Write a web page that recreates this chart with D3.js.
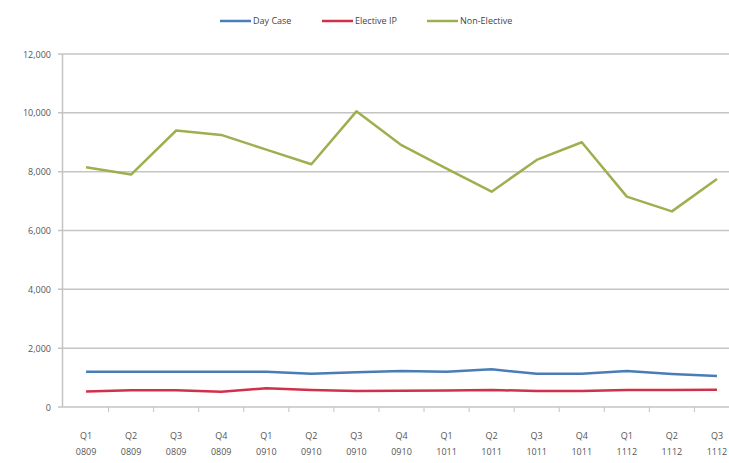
<!DOCTYPE html>
<html>
<head>
<meta charset="utf-8">
<script src="https://cdn.jsdelivr.net/npm/d3@7"></script>
<style>
body { margin: 0; background: #fff; }
svg { display: block; font-family: "Open Sans", sans-serif; }
</style>
</head>
<body>
<div id="chart"></div>
<script>
const width = 729;
const height = 463;

// data
const quarters = ["Q1", "Q2", "Q3", "Q4", "Q1", "Q2", "Q3", "Q4", "Q1", "Q2", "Q3", "Q4", "Q1", "Q2", "Q3"];
const years = ["0809", "0809", "0809", "0809", "0910", "0910", "0910", "0910", "1011", "1011", "1011", "1011", "1112", "1112", "1112"];
const dayCase = [1200, 1200, 1200, 1200, 1200, 1130, 1180, 1220, 1200, 1280, 1130, 1130, 1220, 1120, 1050];
const electiveIP = [530, 570, 570, 520, 640, 580, 540, 550, 560, 580, 540, 540, 580, 580, 590];
const nonElective = [8150, 7900, 9400, 9250, 8750, 8250, 10050, 8900, 8100, 7320, 8400, 9000, 7150, 6650, 7750];
const yTicks = [0, 2000, 4000, 6000, 8000, 10000, 12000];

const series = [
	{ name: "Day Case", values: dayCase, color: "#4a7db8" },
	{ name: "Elective IP", values: electiveIP, color: "#d1304a" },
	{ name: "Non-Elective", values: nonElective, color: "#9cb050" }
];

const cats = quarters.map((q, i) => i);

let svg = d3.select("#chart").append("svg").attr("width", width).attr("height", height);

const x = d3.scaleBand().domain(cats).range([63.5, 739.5]);
const y = d3.scaleLinear().domain([0, 12000]).range([407, 54]);

// gridlines
svg.append("g").selectAll("line").data(yTicks).join("line")
	.attr("x1", 58).attr("x2", width)
	.attr("y1", d => y(d)).attr("y2", d => y(d))
	.attr("stroke", "#c4c4c4").attr("stroke-width", 1.5);

// y axis labels
svg.append("g").selectAll("text").data(yTicks).join("text")
	.attr("x", 51).attr("y", d => y(d) + 3.5)
	.attr("text-anchor", "end").attr("font-size", 9).attr("fill", "#555")
	.text(d => d3.format(",")(d));

// axis line
svg.append("line").attr("x1", 62.5).attr("x2", 62.5).attr("y1", y(12000)).attr("y2", y(0))
	.attr("stroke", "#c4c4c4").attr("stroke-width", 1.5);

// x ticks at category boundaries
svg.append("g").selectAll("line").data(cats.slice(1)).join("line")
	.attr("x1", d => x(d)).attr("x2", d => x(d))
	.attr("y1", y(0)).attr("y2", y(0) + 5)
	.attr("stroke", "#c4c4c4");

// x labels
let xl = svg.append("g").selectAll("text").data(cats).join("text")
	.attr("text-anchor", "middle").attr("font-size", 9).attr("fill", "#555");
xl.append("tspan").attr("x", d => x(d) + x.bandwidth() / 2).attr("y", 439).text(d => quarters[d]);
xl.append("tspan").attr("x", d => x(d) + x.bandwidth() / 2).attr("y", 455).text(d => years[d]);

// lines
const line = d3.line().x((d, i) => x(i) + x.bandwidth() / 2).y(d => y(d));
svg.append("g").selectAll("path").data(series).join("path")
	.attr("d", d => line(d.values))
	.attr("fill", "none").attr("stroke", d => d.color).attr("stroke-width", 2.5)
	.attr("stroke-linejoin", "round");

// legend
const legendX = [220, 322, 427];
let lg = svg.append("g").selectAll("g").data(series).join("g")
	.attr("transform", (d, i) => "translate(" + legendX[i] + ",21)");
lg.append("line").attr("x1", 0).attr("x2", 31).attr("stroke", d => d.color).attr("stroke-width", 2.5);
lg.append("text").attr("x", 33).attr("y", 3).attr("font-size", 9).attr("fill", "#444").text(d => d.name);
</script>
</body>
</html>
